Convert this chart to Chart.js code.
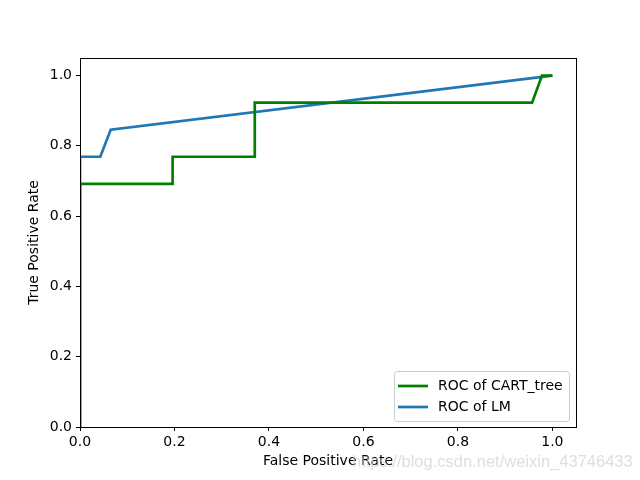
<!DOCTYPE html>
<html>
<head>
<meta charset="utf-8">
<script src="https://cdn.jsdelivr.net/npm/chart.js@4"></script>
<style>
  html, body { margin: 0; padding: 0; background: #fff; }
  #box { width: 640px; height: 480px; }
</style>
</head>
<body>
<div id="box"><canvas id="roc"></canvas></div>
<script>
// ROC curve points
const cartFpr = [0, 0, 0.196, 0.196, 0.370, 0.370, 0.957, 0.978, 1.0];
const cartTpr = [0, 0.692, 0.692, 0.769, 0.769, 0.923, 0.923, 1.0, 1.0];
const lmFpr = [0, 0, 0.043, 0.065, 1.0];
const lmTpr = [0, 0.769, 0.769, 0.846, 1.0];
const xTicks = [0, 0.2, 0.4, 0.6, 0.8, 1.0];
const yTicks = [0, 0.2, 0.4, 0.6, 0.8, 1.0];
const seriesNames = ["ROC of CART_tree", "ROC of LM"];
const seriesColors = ["#008000", "#1f77b4"];

function toPoints(xs, ys) {
  return xs.map((x, i) => ({ x: x, y: ys[i] }));
}

const font = { family: "DejaVu Sans", size: 14 };

// frame round the plot area, the legend box and the watermark
const extras = {
  id: "extras",
  afterDraw(chart) {
    const ctx = chart.ctx;
    const a = chart.chartArea;
    ctx.save();
    ctx.strokeStyle = "#000";
    ctx.lineWidth = 1;
    ctx.strokeRect(Math.round(a.left) + 0.5, Math.round(a.top) + 0.5,
      Math.round(a.right - a.left), Math.round(a.bottom - a.top));

    // legend, lower right
    const lx = 394, ly = 371, lw = 175, lh = 50;
    ctx.fillStyle = "rgba(255,255,255,0.8)";
    ctx.strokeStyle = "#cccccc";
    ctx.beginPath();
    ctx.roundRect(lx + 0.5, ly + 0.5, lw, lh, 3);
    ctx.fill();
    ctx.stroke();
    ctx.font = "14px 'DejaVu Sans'";
    ctx.textBaseline = "middle";
    seriesNames.forEach((name, i) => {
      const yy = ly + 15 + i * 21;
      ctx.strokeStyle = seriesColors[i];
      ctx.lineWidth = 2.7;
      ctx.beginPath();
      ctx.moveTo(lx + 4, yy);
      ctx.lineTo(lx + 34, yy);
      ctx.stroke();
      ctx.fillStyle = "#000";
      ctx.fillText(name, lx + 44, yy);
    });

    ctx.font = "16.5px 'Liberation Sans'";
    ctx.fillStyle = "rgba(200,200,200,0.6)";
    ctx.textBaseline = "middle";
    ctx.fillText("https://blog.csdn.net/weixin_43746433", 352, 462);
    ctx.restore();
  }
};

new Chart(document.getElementById("roc"), {
  type: "scatter",
  data: {
    datasets: [
      {
        label: seriesNames[0],
        data: toPoints(cartFpr, cartTpr),
        showLine: true,
        borderColor: seriesColors[0],
        backgroundColor: seriesColors[0],
        borderWidth: 2.7,
        pointRadius: 0,
        tension: 0,
      },
      {
        label: seriesNames[1],
        data: toPoints(lmFpr, lmTpr),
        showLine: true,
        borderColor: seriesColors[1],
        backgroundColor: seriesColors[1],
        borderWidth: 2.7,
        pointRadius: 0,
        tension: 0,
      },
    ],
  },
  options: {
    animation: false,
    responsive: true,
    maintainAspectRatio: false,
    layout: { padding: { left: 0, top: 58, right: 64, bottom: 0 } },
    plugins: { legend: { display: false }, tooltip: { enabled: false } },
    scales: {
      x: {
        type: "linear",
        min: 0,
        max: 1.05,
        afterFit: (s) => { s.height = 53; },
        afterBuildTicks: (s) => { s.ticks = xTicks.map((v) => ({ value: v })); },
        grid: { drawOnChartArea: false, tickLength: 4, tickColor: "#000" },
        border: { display: true, color: "#000" },
        ticks: { color: "#000", font: font, padding: 3, maxRotation: 0,
          callback: (v) => Number(v).toFixed(1) },
        title: { display: true, text: "False Positive Rate", color: "#000", font: font,
          padding: { top: 0, bottom: 10 } },
      },
      y: {
        type: "linear",
        min: 0,
        max: 1.05,
        afterFit: (s) => { s.width = 80; },
        afterBuildTicks: (s) => { s.ticks = yTicks.map((v) => ({ value: v })); },
        grid: { drawOnChartArea: false, tickLength: 4, tickColor: "#000" },
        border: { display: true, color: "#000" },
        ticks: { color: "#000", font: font, padding: 4,
          callback: (v) => Number(v).toFixed(1) },
        title: { display: true, text: "True Positive Rate", color: "#000", font: font,
          padding: { top: 26, bottom: 0 } },
      },
    },
  },
  plugins: [extras],
});
</script>
</body>
</html>
